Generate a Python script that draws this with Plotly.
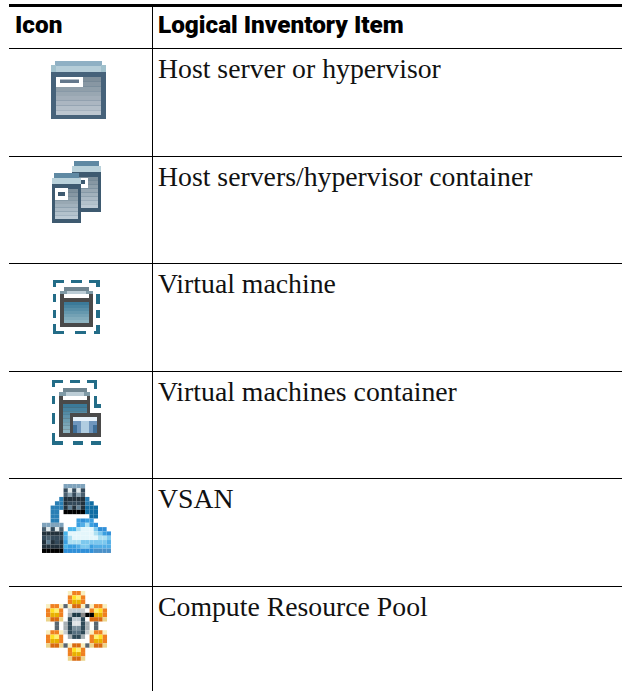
import plotly.graph_objects as go

W, H = 622, 691
headers = ["Icon", "Logical Inventory Item"]
items = ["Host server or hypervisor", "Host servers/hypervisor container", "Virtual machine",
         "Virtual machines container", "VSAN", "Compute Resource Pool"]
row_rules = [48, 156, 263, 371, 478, 586]
item_y = [68.5, 176.5, 283.5, 391.5, 498.5, 606.5]

PAL = {
    "s": "#7fa3bc", "d": "#33495a", "D": "#22313c", "l": "#dfe8ea", "m": "#5f7f94", "g": "#8aa2b0",
    "b": "#2a7fb5", "B": "#0f6da3", "k": "#000000", "c": "#3a9fe0", "C": "#2f8fd8", "a": "#47b4ea",
    "p": "#aee0f2", "w": "#e4f6fb", "q": "#7cc8ee", "r": "#52aee6", "t": "#4a6070", "u": "#4a90c8",
    "O": "#f08020", "y": "#ffe020", "Y": "#fff070", "G": "#e8b000", "R": "#d96a10", "e": "#f8efc0",
    "T": "#ecd48a", "x": "#5a6670", "W": "#ffffff", "1": "#c8ccce", "2": "#a8b0b4", "3": "#1e3a46",
    "4": "#c0cbd2", "5": "#e0e4e6", "6": "#7a8f9b", "7": "#567080", "8": "#2f4a58", "9": "#888888",
}
vsan_rows = [
    ".....sssss......",
    ".....dldld......",
    ".....tgdgt......",
    "....bDDDDDb.....",
    "...bbDdddDbB....",
    "..bbbDmDmDBBB...",
    "..bb.kkkkkBBB...",
    "..bb.......BB...",
    "..bb....cCcc....",
    "sssss...crpcC...",
    "tldlt.aapwwwqCC.",
    "DDDDDawwwwwwpqcC",
    "dtdddrpwwwwwwppq",
    "DmDdDcpppqqqqqqr",
    "DDDDDaccrqqcrrrr",
    "kkkkkCCCCCCCuuuu",
]
pool_rows = [
    ".....eOOe.....",
    ".....OyYO.....",
    ".....OGGO.....",
    "eOOexeRRexeOOe",
    "OyYOW1441WOYyO",
    "OGGOW2339kkGGO",
    "TRRTW8448WRRRT",
    "..x.285582.x..",
    "..x.286682.x..",
    "eOOe187781eOOe",
    "OyYOW2882WOYyO",
    "OGGOWWWWWWOGGO",
    "TRRTxeRRexTRRT",
    ".....OyYO.....",
    ".....OGGO.....",
    ".....TRRT.....",
]

fig = go.Figure()
def rect(x0, y0, x1, y1, c):
    fig.add_shape(type="rect", x0=x0, y0=y0, x1=x1, y1=y1, fillcolor=c, line_width=0, layer="above")

def lerp(a, b, t):
    ca = [int(a[i:i+2], 16) for i in (1, 3, 5)]
    cb = [int(b[i:i+2], 16) for i in (1, 3, 5)]
    return "#%02x%02x%02x" % tuple(round(p + (q - p) * t) for p, q in zip(ca, cb))

def bands(x0, y0, x1, y1, a, b, n):
    for i in range(n):
        rect(x0, y0 + (y1 - y0) * i / n, x1, y0 + (y1 - y0) * (i + 1) / n, lerp(a, b, i / max(n - 1, 1)))

def grid(rows, x0, y0, px):
    for j, r in enumerate(rows):
        for i, ch in enumerate(r):
            if ch in PAL:
                rect(x0 + i * px, y0 + j * px, x0 + (i + 1) * px, y0 + (j + 1) * px, PAL[ch])

def server(x0, x1, y0, y1, capc, lite, frame, a, b, inset=4):
    rect(x0 + inset - 1, y0, x1 - inset + 1, y0 + 5, capc)
    rect(x0, y0 + 5, x1, y0 + 11, lite)
    rect(x0, y0 + 11, x1, y1, frame)
    bands(x0 + inset, y0 + 16, x1 - inset, y1 - 4, a, b, 8)

# ---- icon 1
server(51, 106, 61, 119, "#8fb0c4", "#b5cdd8", "#46627a", "#7f8f9b", "#bcc6d0", inset=5)
rect(51, 65, 56, 72, "#a0c0cc"); rect(101, 65, 106, 72, "#a0c0cc")
rect(56, 77, 83, 87, "#ffffff"); rect(60, 79.5, 79, 83, "#64788c")
# ---- icon 2
server(72, 101, 161, 212, "#5f89a3", "#b9d1da", "#3e5a70", "#7d8f9b", "#bccad4", inset=3)
rect(81, 178, 88, 188, "#ffffff"); rect(81, 180, 85, 184, "#3e5a70")
server(52, 81, 173, 223, "#5f89a3", "#b9d1da", "#3e5a70", "#7d8f9b", "#bccad4", inset=3)
rect(55, 188, 68, 200, "#ffffff"); rect(58, 192, 65, 196, "#3e5a70")
# ---- icon 3
DASH = "#236c87"
for r in [(53,280,64,283),(71,280,82,283),(89,280,100,283),(53,280,56,287),(53,294,56,302),(53,310,56,318),
          (53,324,56,334),(53,331,64,334),(75,331,86,334),(94,331,100,334),(96,280,100,287),(96,294,100,304),
          (96,310,100,318),(96,325,100,334)]:
    rect(*r, DASH)
rect(64, 287, 89, 291, "#6f8590"); rect(60, 291, 93, 294, "#7f9aa6"); rect(67, 291, 86, 294, "#bccdd6")
rect(60, 294, 93, 327, "#4a4a4a"); rect(64, 294, 89, 298, "#ffffff")
bands(64, 302, 89, 323, "#3b7a99", "#8fb5c2", 7)
# ---- icon 4
for r in [(52,380,63,383),(70,380,80,383),(87,380,97,383),(52,380,55,387),(52,396,55,404),(52,413,55,424),
          (52,433,55,445),(52,441,63,445),(73,441,83,445),(91,441,101,445),(94,380,97,389),(94,396,97,408),
          (94,404,101,408)]:
    rect(*r, DASH)
rect(63, 388, 87, 392, "#6f8590"); rect(59, 392, 90, 396, "#7f9aa6"); rect(66, 392, 84, 396, "#bccdd6")
rect(59, 396, 90, 437, "#4a4a4a"); rect(63, 396, 87, 400, "#ffffff")
bands(63, 404, 87, 433, "#3b7a99", "#8fb5c2", 8)
rect(70, 413, 101, 437, "#4a4a4a")
rect(73, 417, 97, 433, "#6f96bc"); rect(73, 417, 97, 421, "#e8f2fa"); rect(81, 421, 89, 433, "#b0cde0")
rect(73, 425, 77, 433, "#3f6f98"); rect(93, 425, 97, 433, "#3f6f98")
# ---- icons 5 and 6
grid(vsan_rows, 42, 484, 4.31)
grid(pool_rows, 46, 591, 4.36)

# ---- rules
for (x0, y0, x1, y1) in [(9, 4, W, 7), (152, 7, 153, H)]:
    rect(x0, y0, x1, y1, "#000000")
for y in row_rules:
    rect(9, y, W, y + 1, "#000000")

# ---- text
HEAD = dict(family="Roboto", size=24.3, color="#000000", weight=900)
fig.add_annotation(x=13, y=24.5, text=headers[0], xanchor="left", yanchor="middle", showarrow=False, font=HEAD)
fig.add_annotation(x=156, y=24.5, text=headers[1], xanchor="left", yanchor="middle", showarrow=False, font=HEAD)
for t, y in zip(items, item_y):
    fig.add_annotation(x=156, y=y, text=t, xanchor="left", yanchor="middle", showarrow=False,
                       font=dict(family="Liberation Serif", size=27.75, color="#111111"))

fig.update_layout(width=W, height=H, margin=dict(l=0, r=0, t=0, b=0), paper_bgcolor="#ffffff", plot_bgcolor="#ffffff",
                  showlegend=False,
                  xaxis=dict(range=[0, W], visible=False, fixedrange=True),
                  yaxis=dict(range=[H, 0], visible=False, fixedrange=True))
fig.write_html("out.html", config={"displayModeBar": False},
               post_script="document.documentElement.style.overflow='hidden';document.body.style.margin='0';")
